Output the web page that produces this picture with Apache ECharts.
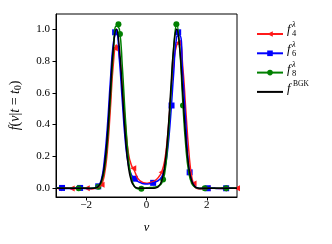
<!DOCTYPE html>
<html><head><meta charset="utf-8">
<script src="https://cdn.jsdelivr.net/npm/echarts@6/dist/echarts.min.js"></script>
<style>html,body{margin:0;padding:0;background:#fff}#c{width:332px;height:244px}</style>
</head><body><div id="c"></div>
<script>
// velocity grid
const v = [-3.0,-2.9,-2.8,-2.7,-2.6,-2.5,-2.4,-2.3,-2.2,-2.1,-2.0,-1.9,-1.8,-1.7,-1.6,-1.5,-1.4,-1.3,-1.2,-1.1,
  -1.0,-0.9,-0.8,-0.7,-0.6,-0.5,-0.4,-0.3,-0.2,-0.1,0.0,0.1,0.2,0.3,0.4,0.5,0.6,0.7,0.8,0.9,
  1.0,1.1,1.2,1.3,1.4,1.5,1.6,1.7,1.8,1.9,2.0,2.1,2.2,2.3,2.4,2.5,2.6,2.7,2.8,2.9,3.0];
const f4 = [0,0,0.002,0.003,0.001,-0.001,-0.002,0,0.002,0.002,0,-0.003,-0.004,0,0.008,0.02,0.08,0.23,0.49,0.78,
  0.9,0.83,0.63,0.40,0.22,0.145,0.11,0.065,0.045,0.035,0.032,0.035,0.04,0.05,0.07,0.10,0.17,0.33,0.56,0.78,
  0.9,0.91,0.77,0.50,0.24,0.07,0.01,-0.003,-0.004,-0.002,0,0.002,0.002,0,-0.001,-0.001,0.001,0.002,0.002,0,0];
const f6 = [0,0.002,0.002,0,-0.002,-0.002,0,0.002,0.002,0,-0.002,-0.002,0,0.004,0.012,0.05,0.17,0.38,0.67,0.91,
  0.98,0.81,0.54,0.29,0.145,0.085,0.062,0.045,0.035,0.028,0.026,0.028,0.033,0.04,0.05,0.07,0.12,0.24,0.45,0.72,
  0.95,0.96,0.72,0.42,0.13,0.045,0.012,0,-0.002,-0.002,0,0.002,0.002,0,-0.002,-0.002,0,0.002,0.002,0,0];
const f8 = [0,0.001,0,-0.001,0,0.001,0,-0.001,0,0.001,0,-0.001,0,0.003,0.01,0.035,0.11,0.28,0.56,0.85,
  1.02,1.0,0.76,0.44,0.19,0.06,0.012,-0.003,-0.004,0,0.003,0.004,0.005,0.008,0.015,0.03,0.09,0.27,0.56,0.88,
  1.03,0.88,0.55,0.27,0.10,0.03,0.008,0,-0.002,-0.001,0,0.001,0,-0.001,0,0.001,0,-0.001,0,0.001,0];
const fBGK = [0,0,0,0,0,0,0,0,0,0,0,0,0,0.002,0.011,0.044,0.135,0.325,0.607,0.882,
  1.0,0.882,0.607,0.325,0.135,0.044,0.011,0.002,0,0,0,0,0,0.002,0.011,0.044,0.135,0.325,0.607,0.882,
  1.0,0.882,0.607,0.325,0.135,0.044,0.011,0.002,0,0,0,0,0,0,0,0,0,0,0,0,0];
// marker positions [v, f]
const f4Marks = [[-2.9,0],[-2.48,-0.001],[-1.98,0],[-1.49,0.022],[-1.05,0.88],[-0.44,0.125],[0.5,0.10],[1.05,0.915],[1.56,0.03],[2.02,0],[2.57,-0.001],[3.0,0]];
const f6Marks = [[-2.8,0.002],[-2.2,0.002],[-1.6,0.012],[-1.04,0.98],[-0.39,0.06],[0.22,0.034],[0.83,0.52],[1.05,0.98],[1.43,0.1],[2.03,0],[2.64,0]];
const f8Marks = [[-2.25,0],[-1.6,0.01],[-0.93,1.03],[-0.88,0.97],[-0.17,-0.003],[0.55,0.055],[0.99,1.03],[1.21,0.52],[1.93,0],[2.64,0]];
const xTicks = [-2, 0, 2];
const yTicks = [0, 0.2, 0.4, 0.6, 0.8, 1.0];

const serif = "'Liberation Serif', 'DejaVu Serif', serif";
const tri = 'path://M0,5L10,0L10,10Z';
const pairs = ys => v.map((x, i) => [x, ys[i]]);
const lineS = (name, ys, color, symbol, symColor) => ({
  type: 'line', name, data: pairs(ys), smooth: 0.5, showSymbol: false, symbol, symbolSize: 6,
  lineStyle: { color, width: 1.5 }, itemStyle: { color: symColor || color }, animation: false, silent: true
});
const markS = (name, pts, color, symbol) => ({
  type: 'scatter', name, data: pts, symbol, symbolSize: 6, itemStyle: { color, opacity: 1 },
  animation: false, silent: true, clip: false
});
const minus = s => String(s).replace('-', '\u2212');

const chart = echarts.init(document.getElementById('c'));
const legY = [29, 49, 69, 88.5];
const subs = ['4', '6', '8'];
const graphics = [];
legY.forEach((y, i) => {
  graphics.push({ type: 'text', x: 287, y: y + 0.5, style: { text: 'f', font: 'italic 12.5px ' + serif, fill: '#000', verticalAlign: 'middle' } });
  if (i < 3) {
    graphics.push({ type: 'text', x: 292, y: y - 4.5, style: { text: '\u03bb', font: 'italic 8.5px ' + serif, fill: '#000', verticalAlign: 'middle' } });
    graphics.push({ type: 'text', x: 292, y: y + 4.5, style: { text: subs[i], font: '8.5px ' + serif, fill: '#000', verticalAlign: 'middle' } });
  } else {
    graphics.push({ type: 'text', x: 293, y: y - 4.5, style: { text: 'BGK', font: '7.5px ' + serif, fill: '#000', verticalAlign: 'middle' } });
  }
});

chart.setOption({
  animation: false,
  grid: { left: 54, top: 14, width: 183, height: 183, show: true, borderColor: '#000', borderWidth: 1, backgroundColor: 'transparent' },
  xAxis: {
    type: 'value', min: -3, max: 3,
    axisLine: { show: true, onZero: false, lineStyle: { color: '#000', width: 1 } },
    axisTick: { show: true, length: 3.5, customValues: xTicks, lineStyle: { color: '#000' } },
    axisLabel: { customValues: xTicks, margin: 3, fontSize: 11, fontFamily: serif, color: '#000', formatter: minus },
    splitLine: { show: false },
    name: 'v', nameLocation: 'middle', nameGap: 24,
    nameTextStyle: { fontFamily: serif, fontStyle: 'italic', fontSize: 12.5, color: '#000' }
  },
  yAxis: {
    type: 'value', min: -0.055, max: 1.095,
    axisLine: { show: true, onZero: false, lineStyle: { color: '#000', width: 1 } },
    axisTick: { show: true, length: 3.5, customValues: yTicks, lineStyle: { color: '#000' } },
    axisLabel: { customValues: yTicks, margin: 6, fontSize: 11, fontFamily: serif, color: '#000', formatter: val => val.toFixed(1) },
    splitLine: { show: false },
    name: '{i|f}{r|(}{i|v}{r||}{i|t}{r| = }{i|t}{s|0}{r|)}', nameLocation: 'middle', nameGap: 33, nameRotate: 90,
    nameTextStyle: {
      color: '#000',
      rich: {
        i: { fontFamily: serif, fontStyle: 'italic', fontSize: 14, lineHeight: 16, color: '#000' },
        r: { fontFamily: serif, fontSize: 14, lineHeight: 16, color: '#000' },
        s: { fontFamily: serif, fontSize: 9.5, lineHeight: 16, verticalAlign: 'bottom', color: '#000' }
      }
    }
  },
  legend: {
    orient: 'vertical', left: 251, top: 25.5, itemWidth: 26, itemHeight: 7, itemGap: 13,
    data: ['f4', 'f6', 'f8', 'fBGK'], formatter: () => '', textStyle: { fontSize: 1 },
    selectedMode: false
  },
  graphic: graphics,
  series: [
    lineS('f4', f4, '#ff1a1a', tri),
    markS('f4m', f4Marks, '#ff1a1a', tri),
    lineS('f6', f6, '#0000ff', 'rect'),
    markS('f6m', f6Marks, '#0000ff', 'rect'),
    lineS('f8', f8, '#008000', 'circle'),
    markS('f8m', f8Marks, '#008000', 'circle'),
    lineS('fBGK', fBGK, '#000000', 'circle', 'rgba(0,0,0,0)')
  ]
});
</script></body></html>
